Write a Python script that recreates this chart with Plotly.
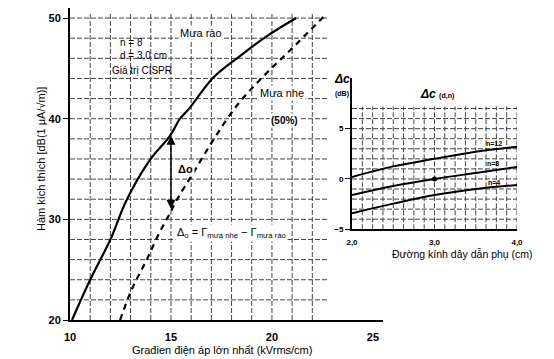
import plotly.graph_objects as go

# ---------------- data ----------------
# Main chart: excitation function vs max gradient
rain_x = [10.1, 11.0, 12.0, 12.8, 13.96, 14.95, 15.45, 15.9, 17.1, 18.4, 19.75, 21.2]
rain_y = [20.0, 24.0, 28.0, 31.9, 35.9, 38.3, 40.0, 41.0, 44.1, 46.2, 48.2, 50.0]

light_x = [12.48, 13.05, 13.8, 14.46, 14.87, 15.28, 16.1, 17.1, 18.3, 19.57, 20.9, 22.54]
light_y = [20.0, 23.0, 26.0, 28.8, 30.3, 31.9, 34.6, 37.9, 41.4, 44.2, 46.8, 50.1]

delta_x = 15.0
delta_top = 38.3
delta_bottom = 30.9

main_xticks = [10, 15, 20, 25]
main_yticks = [20, 30, 40, 50]
main_grid_x = [11, 12, 13, 14, 15, 16, 17, 18, 19, 20, 21, 22]
main_grid_y = [22, 24, 26, 28, 30, 32, 34, 36, 38, 40, 42, 44, 46, 48, 50]

# Inset: correction Δc(d, n)
d_vals = [2.0, 2.5, 3.0, 3.5, 4.0]
n12 = [0.2, 1.25, 2.0, 2.7, 3.2]
n8 = [-1.6, -0.7, 0.0, 0.6, 1.2]
n4 = [-3.4, -2.45, -1.6, -1.0, -0.6]

inset_xticks = [2.0, 3.0, 4.0]
inset_xtick_text = ["2,0", "3,0", "4,0"]
inset_yticks = [-5, 0, 5]
inset_grid_x = [2.0 + 0.125 * k for k in range(1, 17)]
inset_grid_y = [-4, -3, -2, -1, 0, 1, 2, 3, 4, 5, 6, 7]

FONT = "Liberation Sans, Arial, sans-serif"
GRID = dict(color="#444444", width=1, dash="5px,2px")

fig = go.Figure()

# main curves
fig.add_trace(go.Scatter(x=rain_x, y=rain_y, mode="lines",
                         line=dict(color="black", width=2.2, shape="spline", smoothing=1.0),
                         xaxis="x", yaxis="y", showlegend=False, hoverinfo="skip"))
fig.add_trace(go.Scatter(x=light_x, y=light_y, mode="lines",
                         line=dict(color="black", width=2.2, dash="6px,5px", shape="spline", smoothing=1.0),
                         xaxis="x", yaxis="y", showlegend=False, hoverinfo="skip"))

# inset curves
for ys in (n12, n8, n4):
    fig.add_trace(go.Scatter(x=d_vals, y=ys, mode="lines", line=dict(color="black", width=2, shape="spline"),
                             xaxis="x2", yaxis="y2", showlegend=False, hoverinfo="skip"))
fig.add_trace(go.Scatter(x=[d_vals[2]], y=[n8[2]], mode="markers", marker=dict(color="black", size=5),
                         xaxis="x2", yaxis="y2", showlegend=False, hoverinfo="skip"))

shapes = []
for gx in main_grid_x:
    shapes.append(dict(type="line", xref="x", yref="y", x0=gx, x1=gx, y0=20, y1=50.5, line=GRID, layer="below"))
for gy in main_grid_y:
    shapes.append(dict(type="line", xref="x", yref="y", x0=10, x1=22.8, y0=gy, y1=gy, line=GRID, layer="below"))
for gx in inset_grid_x:
    shapes.append(dict(type="line", xref="x2", yref="y2", x0=gx, x1=gx, y0=-5, y1=7.2, line=GRID, layer="below"))
for gy in inset_grid_y:
    shapes.append(dict(type="line", xref="x2", yref="y2", x0=2.0, x1=4.0, y0=gy, y1=gy, line=GRID, layer="below"))


def pa(x, y, text, size, **kw):
    d = dict(x=x / 554, y=1 - y / 359, xref="paper", yref="paper", showarrow=False, text=text,
             xanchor="center", yanchor="middle", font=dict(size=size, family=FONT))
    d.update(kw)
    return d


def da(x, y, text, size, ref="", **kw):
    d = dict(x=x, y=y, xref="x" + ref, yref="y" + ref, showarrow=False, text=text,
             xanchor="center", yanchor="middle", font=dict(size=size, family=FONT))
    d.update(kw)
    return d


annotations = [
    # arrow Δo
    dict(x=delta_x, y=delta_top, ax=delta_x, ay=delta_bottom, xref="x", yref="y", axref="x", ayref="y", text="",
         showarrow=True, arrowhead=2, startarrowhead=2, arrowside="end+start", arrowwidth=1.5,
         arrowsize=1.2, startarrowsize=1.2, arrowcolor="black"),
    da(15.25, 35.0, "<b>Δo</b>", 11, xanchor="left", bgcolor="white"),
    da(15.2, 28.6, "Δ<sub>o</sub> = Γ<sub>mưa nhẹ</sub> − Γ<sub>mưa rào</sub>", 11, xanchor="left", bgcolor="white"),
    da(16.5, 48.5, "Mưa rào", 11, bgcolor="white"),
    da(12.4, 47.6, "n = 8", 10, xanchor="left"),
    da(12.4, 46.3, "d = 3,0 cm", 10, xanchor="left"),
    da(12.0, 44.8, "Giá trị CISPR", 10, xanchor="left"),
    da(20.5, 42.6, "Mưa nhẹ", 11, bgcolor="white"),
    da(20.6, 39.8, "<b>(50%)</b>", 10, bgcolor="white"),
    # main axis titles
    pa(222, 350, "Građien điện áp lớn nhất (kVrms/cm)", 11),
    pa(41, 159, "Hàm kích thích [dB(1 μA/√m)]", 11, textangle=-90),
    # inset labels
    pa(342, 79, "<b><i>Δc</i></b>", 12),
    pa(342, 94, "<b>(dB)</b>", 7),
    pa(437, 94, "<b><i>Δc</i></b> <span style='font-size:7px'><b>(d,n)</b></span>", 12),
    pa(462, 254, "Đường kính dây dẫn phụ (cm)", 10.5),
    da(3.72, 3.5, "<b>n=12</b>", 7, ref="2"),
    da(3.71, 1.5, "<b>n=8</b>", 7, ref="2"),
    da(3.72, -0.4, "<b>n=4</b>", 7, ref="2"),
]

fig.update_layout(
    width=554, height=359,
    margin=dict(l=0, r=0, t=0, b=0, pad=0),
    paper_bgcolor="white", plot_bgcolor="rgba(0,0,0,0)",
    font=dict(family=FONT, color="black"),
    shapes=shapes, annotations=annotations,
    xaxis=dict(domain=[70 / 554, 383 / 554], range=[10, 25.5], showgrid=False, zeroline=False, automargin=False,
               showline=True, linecolor="black", linewidth=2, tickvals=main_xticks, ticks="",
               ticklabelstandoff=6, tickfont=dict(size=11, family=FONT, weight="bold"), anchor="y"),
    yaxis=dict(domain=[1 - 320 / 359, 1 - 8 / 359], range=[20, 51], showgrid=False, zeroline=False, automargin=False,
               showline=True, linecolor="black", linewidth=2, tickvals=main_yticks, ticks="outside",
               ticklen=5, tickcolor="black", tickfont=dict(size=11, family=FONT, weight="bold"), anchor="x"),
    xaxis2=dict(domain=[352 / 554, 517 / 554], range=[2.0, 4.0], showgrid=False, zeroline=False, automargin=False,
                showline=True, linecolor="black", linewidth=2, tickvals=inset_xticks, ticktext=inset_xtick_text,
                ticks="", ticklabelstandoff=4, tickfont=dict(size=8, family=FONT, weight="bold"), anchor="y2"),
    yaxis2=dict(domain=[1 - 229.3 / 359, 1 - 78.3 / 359], range=[-5, 10], showgrid=False, zeroline=False,
                automargin=False,
                showline=True, linecolor="black", linewidth=2, tickvals=inset_yticks, ticks="outside",
                ticklen=5, tickcolor="black", tickfont=dict(size=8, family=FONT, weight="bold"), anchor="x2"),
)

fig.write_html("out.html", config={"displayModeBar": False},
               post_script="document.body.style.margin='0';document.body.style.overflow='hidden';")
